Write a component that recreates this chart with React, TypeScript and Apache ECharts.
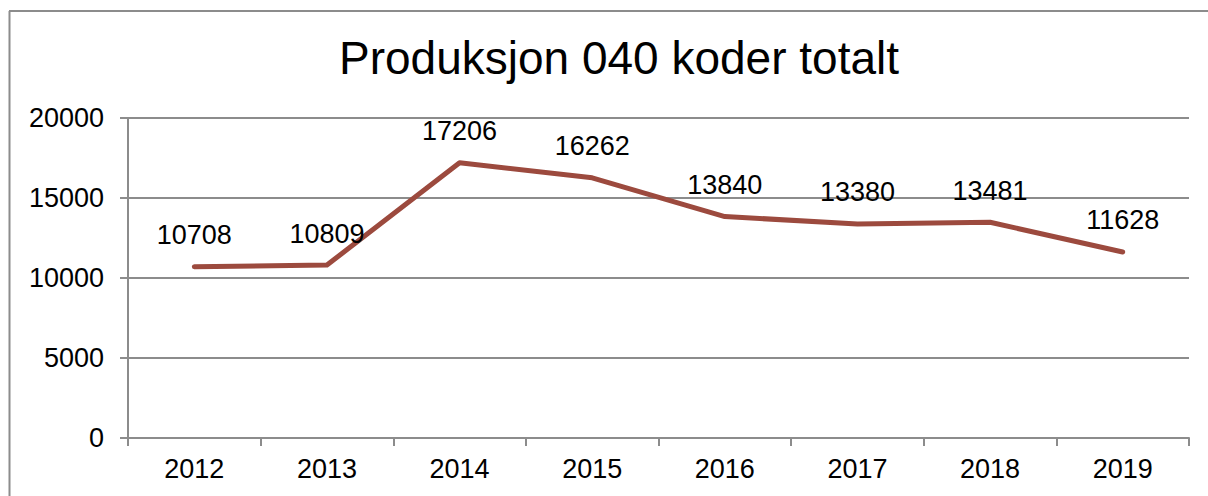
import React, { useEffect, useRef } from "react";
import * as echarts from "echarts";

const years = ["2012", "2013", "2014", "2015", "2016", "2017", "2018", "2019"];
const values = [10708, 10809, 17206, 16262, 13840, 13380, 13481, 11628];
const titleText = "Produksjon 040 koder totalt";

export default function App() {
  const ref = useRef<HTMLDivElement>(null);
  useEffect(() => {
    if (!ref.current) return;
    const chart = echarts.init(ref.current, undefined, { renderer: "svg" });
    const font = "'Liberation Sans', Arial, sans-serif";
    chart.setOption({
      animation: false,
      backgroundColor: "#ffffff",
      textStyle: { fontFamily: font },
      title: {
        text: titleText,
        left: 614,
        top: 30,
        textAlign: "center",
        textStyle: { fontFamily: font, fontSize: 46, fontWeight: "normal", color: "#000" },
      },
      graphic: [
        { type: "line", shape: { x1: 9, y1: 11, x2: 1208, y2: 11 }, style: { stroke: "#8c8c8c", lineWidth: 2 } },
        { type: "line", shape: { x1: 9.5, y1: 11, x2: 9.5, y2: 496 }, style: { stroke: "#8c8c8c", lineWidth: 2 } },
      ],
      grid: { left: 128, right: 19, top: 118, bottom: 58 },
      xAxis: {
        type: "category",
        data: years,
        boundaryGap: true,
        axisLine: { lineStyle: { color: "#8c8c8c", width: 2 } },
        axisTick: { show: true, length: 8, lineStyle: { color: "#8c8c8c", width: 2 } },
        axisLabel: { color: "#000", fontSize: 27, margin: 17, fontFamily: font },
      },
      yAxis: {
        type: "value",
        min: 0,
        max: 20000,
        interval: 5000,
        axisLine: { show: true, lineStyle: { color: "#8c8c8c", width: 2 } },
        axisTick: { show: true, length: 8, lineStyle: { color: "#8c8c8c", width: 2 } },
        splitLine: { lineStyle: { color: "#8c8c8c", width: 2 } },
        axisLabel: {
          color: "#000",
          fontSize: 27,
          margin: 24,
          fontFamily: font,
          formatter: (v: number) => String(v),
        },
      },
      series: [
        {
          type: "line",
          data: values,
          symbol: "circle",
          symbolSize: 0,
          showSymbol: true,
          lineStyle: { color: "#9c4a3e", width: 5, cap: "round", join: "round" },
          itemStyle: { color: "#9c4a3e" },
          label: {
            show: true,
            position: "top",
            distance: 18,
            color: "#000",
            fontSize: 27,
            fontFamily: font,
          },
        },
      ],
    });
    return () => chart.dispose();
  }, []);
  return (
    <div
      ref={ref}
      style={{ position: "fixed", left: 0, top: 0, width: 1208, height: 496 }}
    />
  );
}
